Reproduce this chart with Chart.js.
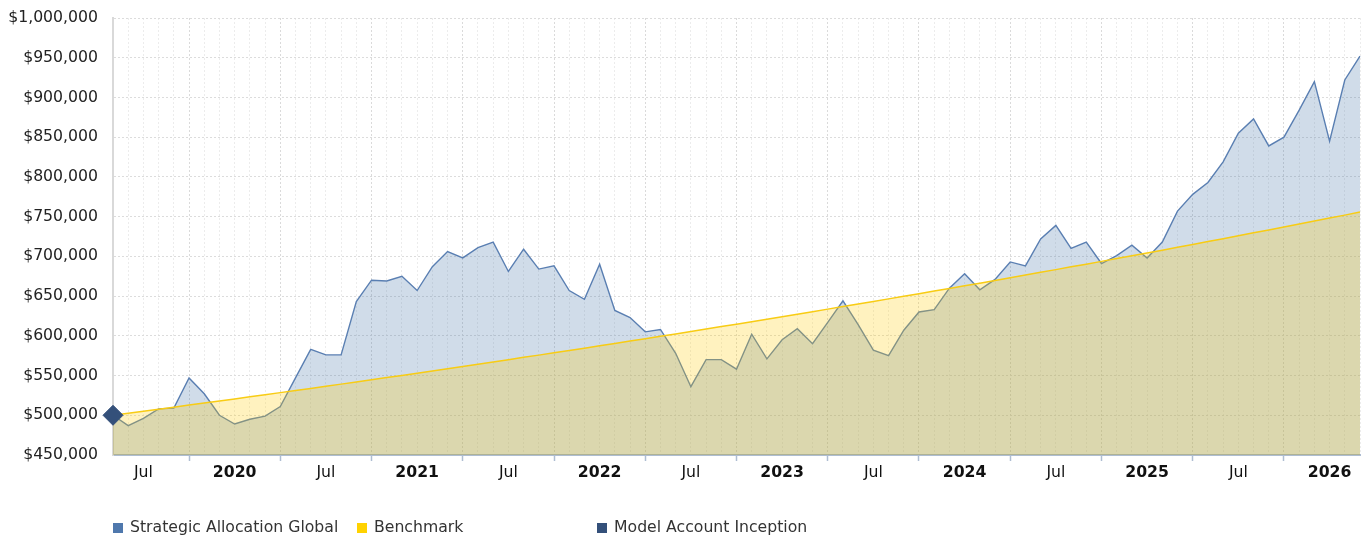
<!DOCTYPE html>
<html>
  <head>
    <script src="https://cdn.jsdelivr.net/npm/chart.js"></script>
    <title>Strategic Allocation Global</title>
    <style>
      body {
        margin: 0;
        background-color: white;
        font-family: "DejaVu Sans", Verdana, sans-serif;
      }
      .wrap {
        position: relative;
        width: 1367px;
        height: 536px;
        overflow: hidden;
      }
      .legend {
        position: absolute;
        top: 518px;
        left: 0;
        width: 1367px;
        height: 18px;
        font-size: 15.7px;
        color: #333;
      }
      .legend span.item {
        position: absolute;
        top: 0;
        white-space: nowrap;
        line-height: 18px;
      }
      .legend span.box {
        display: inline-block;
        width: 10px;
        height: 10px;
        margin-right: 7px;
        vertical-align: -1px;
      }
    </style>
  </head>
  <body>
    <div class="wrap">
      <!-- canvas a bit wider than the page; chart.js keeps ~11px on the right -->
      <canvas id="growthChart" width="1371" height="536"></canvas>
      <div class="legend" id="legend"></div>
    </div>

<script>
  // months shown on the x axis (month-end values)
  const months = [
    'May 2019', 'Jun 2019', 'Jul 2019', 'Aug 2019', 'Sep 2019', 'Oct 2019', 'Nov 2019', 'Dec 2019',
    'Jan 2020', 'Feb 2020', 'Mar 2020', 'Apr 2020', 'May 2020', 'Jun 2020', 'Jul 2020', 'Aug 2020', 'Sep 2020', 'Oct 2020', 'Nov 2020', 'Dec 2020',
    'Jan 2021', 'Feb 2021', 'Mar 2021', 'Apr 2021', 'May 2021', 'Jun 2021', 'Jul 2021', 'Aug 2021', 'Sep 2021', 'Oct 2021', 'Nov 2021', 'Dec 2021',
    'Jan 2022', 'Feb 2022', 'Mar 2022', 'Apr 2022', 'May 2022', 'Jun 2022', 'Jul 2022', 'Aug 2022', 'Sep 2022', 'Oct 2022', 'Nov 2022', 'Dec 2022',
    'Jan 2023', 'Feb 2023', 'Mar 2023', 'Apr 2023', 'May 2023', 'Jun 2023', 'Jul 2023', 'Aug 2023', 'Sep 2023', 'Oct 2023', 'Nov 2023', 'Dec 2023',
    'Jan 2024', 'Feb 2024', 'Mar 2024', 'Apr 2024', 'May 2024', 'Jun 2024', 'Jul 2024', 'Aug 2024', 'Sep 2024', 'Oct 2024', 'Nov 2024', 'Dec 2024',
    'Jan 2025', 'Feb 2025', 'Mar 2025', 'Apr 2025', 'May 2025', 'Jun 2025', 'Jul 2025', 'Aug 2025', 'Sep 2025', 'Oct 2025', 'Nov 2025', 'Dec 2025',
    'Jan 2026', 'Feb 2026', 'Mar 2026'
  ];

  const strategicValues = [
    500000, 487000, 496000, 508000, 509000, 547000, 527000, 500000, 489000, 495000, 499000, 511000,
    547000, 583000, 576000, 576000, 643000, 670000, 669000, 675000, 657000, 687000, 706000, 698000,
    711000, 718000, 681000, 709000, 684000, 688000, 657000, 646000, 690000, 632000, 623000, 605000,
    608000, 578000, 536000, 570000, 570000, 558000, 602000, 571000, 595000, 609000, 590000, 617000,
    644000, 614000, 582000, 575000, 607000, 630000, 633000, 660000, 678000, 658000, 671000, 693000,
    688000, 722000, 739000, 710000, 718000, 691000, 701000, 714000, 698000, 718000, 757000, 778000,
    793000, 819000, 855000, 873000, 839000, 850000, 884000, 920000, 845000, 922000, 952000
  ];

  const benchmarkValues = [
    500000, 502500, 505100, 507600, 510200, 512800, 515300, 517900, 520600, 523200, 525800, 528500,
    531200, 533800, 536500, 539200, 542000, 544700, 547500, 550200, 553000, 555800, 558600, 561400,
    564300, 567100, 570000, 572900, 575700, 578700, 581600, 584500, 587500, 590400, 593400, 596400,
    599400, 602400, 605500, 608500, 611600, 614700, 617800, 620900, 624100, 627200, 630400, 633600,
    636800, 640000, 643200, 646500, 649700, 653000, 656300, 659600, 663000, 666300, 669700, 673100,
    676500, 679900, 683300, 686800, 690200, 693700, 697200, 700700, 704300, 707800, 711400, 715000,
    718600, 722200, 725900, 729600, 733200, 736900, 740700, 744400, 748200, 751900, 755700
  ];

  const inceptionMonth = 'May 2019';
  const inceptionValue = 500000;

  const yMin = 450000;
  const yMax = 1000000;
  const yStep = 50000;

  const seriesNames = ['Strategic Allocation Global', 'Benchmark', 'Model Account Inception'];
  const seriesColors = ['#4f78ad', '#ffd200', '#34507a'];

  const FONT = '"DejaVu Sans", Verdana, sans-serif';

  function isMajor(i) {
    const m = months[i] || '';
    return m.startsWith('Apr') || m.startsWith('Oct');
  }

  function axisLabel(i) {
    const m = months[i] || '';
    if (m.startsWith('Jan')) return m.slice(4);
    if (m.startsWith('Jul')) return 'Jul';
    return '';
  }

  const ctx = document.getElementById('growthChart').getContext('2d');
  const growthChart = new Chart(ctx, {
    type: 'line',
    data: {
      labels: months,
      datasets: [
        {
          label: seriesNames[0],
          data: strategicValues,
          borderColor: '#5a7fb2',
          borderWidth: 1.4,
          backgroundColor: 'rgba(69, 114, 167, 0.25)',
          fill: 'start',
          pointRadius: 0,
          tension: 0,
          order: 3,
        },
        {
          label: seriesNames[1],
          data: benchmarkValues,
          borderColor: '#f8cc14',
          borderWidth: 1.5,
          backgroundColor: 'rgba(255, 204, 0, 0.25)',
          fill: 'start',
          pointRadius: 0,
          tension: 0,
          order: 2,
        },
        {
          label: seriesNames[2],
          data: [{ x: inceptionMonth, y: inceptionValue }],
          showLine: false,
          pointStyle: 'rectRot',
          pointRadius: 10,
          backgroundColor: seriesColors[2],
          borderColor: seriesColors[2],
          borderWidth: 1,
          clip: false,
          order: 1,
        },
      ],
    },
    options: {
      responsive: false,
      animation: false,
      layout: {
        padding: { left: 0, right: 7, top: 18, bottom: 36 },
      },
      plugins: {
        legend: { display: false },
        tooltip: { enabled: false },
      },
      scales: {
        x: {
          type: 'category',
          afterFit: (scale) => {
            scale.height = 45;
            scale.paddingLeft = 0;
            scale.paddingRight = 0;
          },
          grid: {
            color: (c) => isMajor(c.index) ? '#dadada' : '#ececec',
            lineWidth: 1,
            tickLength: 6,
            tickColor: (c) => isMajor(c.index) ? '#aebdd2' : 'rgba(0,0,0,0)',
            tickWidth: 1.5,
          },
          border: {
            color: '#aebdd2',
            width: 2,
            dash: [2, 2],
          },
          ticks: {
            autoSkip: false,
            maxRotation: 0,
            padding: 3,
            color: '#111',
            font: (c) => ({
              family: FONT,
              size: 15.7,
              weight: (axisLabel(c.index) !== 'Jul' && axisLabel(c.index) !== '') ? 'bold' : 'normal',
            }),
            callback: function (value, index) {
              return axisLabel(index);
            },
          },
        },
        y: {
          min: yMin,
          max: yMax,
          afterFit: (scale) => { scale.width = 113; },
          grid: {
            color: '#dcdcdc',
            drawTicks: true,
            tickLength: 15,
            tickColor: 'rgba(0,0,0,0)',
          },
          border: {
            color: '#d9d9d9',
            width: 2,
            dash: [2, 2],
          },
          ticks: {
            stepSize: yStep,
            padding: 0,
            color: '#222',
            font: { family: FONT, size: 15.7 },
            callback: (v) => '$' + Number(v).toLocaleString('en-US'),
          },
        },
      },
    },
  });

  // legend laid out like the original, fixed slots
  const legendSlots = [113, 357, 597];
  const legendEl = document.getElementById('legend');
  seriesNames.forEach((name, i) => {
    const item = document.createElement('span');
    item.className = 'item';
    item.style.left = legendSlots[i] + 'px';
    item.innerHTML = '<span class="box" style="background:' + seriesColors[i] + '"></span>' + name;
    legendEl.appendChild(item);
  });
</script>
  </body>
</html>
